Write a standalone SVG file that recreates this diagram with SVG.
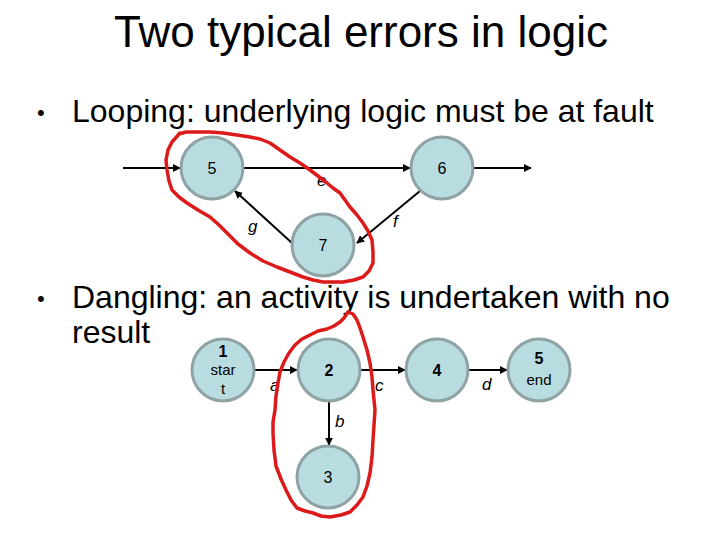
<svg xmlns="http://www.w3.org/2000/svg" width="720" height="540" viewBox="0 0 720 540">
<defs>
<marker id="ah" viewBox="0 0 10 10" refX="9" refY="5" markerWidth="4" markerHeight="4" orient="auto" markerUnits="strokeWidth">
<path d="M0,0 L10,5 L0,10 z" fill="#000"/>
</marker>
<style>
text{font-family:"Liberation Sans",Arial,sans-serif;fill:#000}
.title{font-size:44px;text-anchor:middle}
.bullet{font-size:32px}
.dot{font-size:22px}
.node circle{fill:#b8dce0;stroke:#8fa3a5;stroke-width:3}
.num{font-size:16px;text-anchor:middle}
.bnum{font-size:16px;text-anchor:middle;font-weight:bold}
.sub{font-size:15px;text-anchor:middle}
.lbl{font-size:17px;font-style:italic}
.edge{stroke:#000;stroke-width:2;fill:none;marker-end:url(#ah)}
.red{stroke:#dd1a1a;stroke-width:3.5;fill:none;stroke-linejoin:round;stroke-linecap:round}
</style>
</defs>
<rect width="720" height="540" fill="#fff"/>
<text class="title" x="361" y="47">Two typical errors in logic</text>
<text class="dot" x="37" y="120">•</text>
<text class="bullet" x="72" y="122">Looping: underlying logic must be at fault</text>
<text class="dot" x="37" y="306">•</text>
<text class="bullet" x="72" y="308">Dangling: an activity is undertaken with no</text>
<text class="bullet" x="72" y="343">result</text>

<g id="connectors">
<line class="edge" x1="123" y1="168" x2="180" y2="168"/>
<line class="edge" x1="243" y1="168" x2="410" y2="168"/>
<line class="edge" x1="473" y1="168" x2="531" y2="168"/>
<line class="edge" x1="292" y1="243" x2="235" y2="191"/>
<line class="edge" x1="420" y1="191" x2="357" y2="243"/>
<line class="edge" x1="255" y1="370" x2="297" y2="370"/>
<line class="edge" x1="361" y1="370" x2="405" y2="370"/>
<line class="edge" x1="469" y1="370" x2="507" y2="370"/>
<line class="edge" x1="329" y1="402" x2="329" y2="445"/>
<text class="lbl" x="317" y="186">e</text>
<text class="lbl" x="248" y="232">g</text>
<text class="lbl" x="393" y="227">f</text>
<text class="lbl" x="270" y="391">a</text>
<text class="lbl" x="375" y="391">c</text>
<text class="lbl" x="482" y="390">d</text>
<text class="lbl" x="335" y="427">b</text>
</g>

<g id="n5" class="node"><circle cx="212" cy="168" r="31"/><text class="num" x="212" y="174">5</text></g>
<g id="n6" class="node"><circle cx="442" cy="168" r="31"/><text class="num" x="442" y="174">6</text></g>
<g id="n7" class="node"><circle cx="323" cy="245" r="31"/><text class="num" x="323" y="251">7</text></g>

<g id="b1" class="node"><circle cx="223" cy="370" r="31"/><text class="bnum" x="223" y="357">1</text><text class="sub" x="223" y="375">star</text><text class="sub" x="223" y="394">t</text></g>
<g id="b2" class="node"><circle cx="329" cy="370" r="31"/><text class="bnum" x="329" y="376">2</text></g>
<g id="b4" class="node"><circle cx="437" cy="370" r="31"/><text class="bnum" x="437" y="376">4</text></g>
<g id="b5" class="node"><circle cx="539" cy="370" r="31"/><text class="bnum" x="539" y="364">5</text><text class="sub" x="539" y="385">end</text></g>
<g id="b3" class="node"><circle cx="328" cy="477" r="31"/><text class="num" x="328" y="483">3</text></g>

<g id="annotations">
<polyline class="red" points="180,133 172,142 168,150 166,160 167,170 169,181 172,190 179,197 187,203 198,210 210,217 219,225 227,233 238,244 250,253 263,261 277,267 290,272 303,277 313,280 323,282 333,282 343,282 354,280 363,277 369,271 373,263 373,252 372,240 368,231 363,223 357,215 350,207 345,200 340,193 333,188 327,183 318,176 310,170 300,163 290,157 280,150 270,143 260,139 250,137 237,135 223,133 210,132 197,132 186,132 179,134"/>
<polyline class="red" points="348,312 344,318 340,322 334,326 327,329 318,331 310,335 302,339 295,345 289,353 284,362 280,372 278,383 276,396 275,410 273,422 273,433 274,450 276,466 281,479 286,490 291,500 297,508 305,511 313,513 321,516 330,517 341,515 350,512 357,505 363,497 367,486 370,473 372,457 373,440 374,425 375,410 374,400 373,390 372,377 370,363 367,350 363,337 360,328 357,320 353,314 348,312"/>
</g>
</svg>
